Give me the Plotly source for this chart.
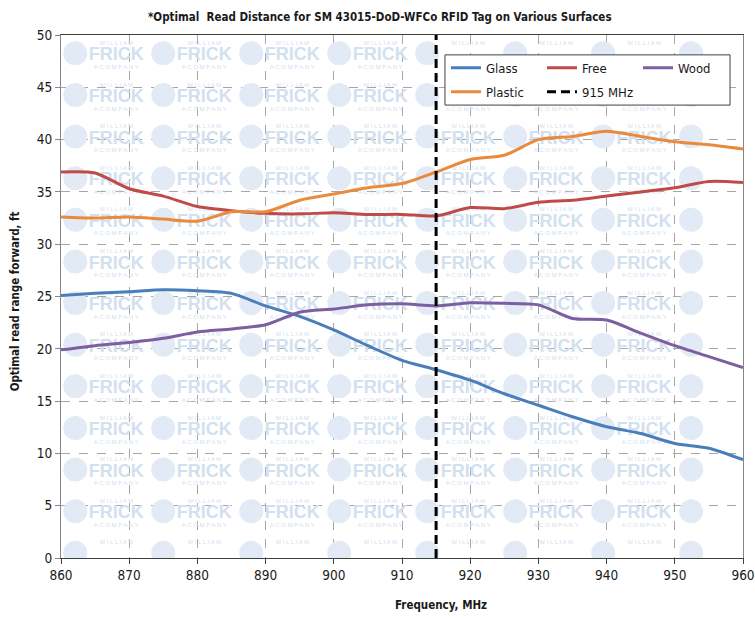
import numpy as np
import plotly.graph_objects as go

# ---- data ----
freq = [860, 865, 870, 875, 880, 885, 890, 895, 900, 905, 910,
        915, 920, 925, 930, 935, 940, 945, 950, 955, 960]
glass = [25.1, 25.3, 25.45, 25.65, 25.55, 25.3, 24.1, 23.1, 21.8, 20.3, 18.9,
         18.0, 17.0, 15.7, 14.6, 13.5, 12.55, 11.9, 10.95, 10.5, 9.4]
free = [36.9, 36.8, 35.3, 34.6, 33.6, 33.2, 32.95, 32.9, 33.0, 32.85, 32.85,
        32.7, 33.5, 33.4, 34.0, 34.2, 34.6, 35.0, 35.4, 36.0, 35.9]
wood = [19.9, 20.3, 20.6, 21.0, 21.6, 21.9, 22.3, 23.5, 23.8, 24.2, 24.3,
        24.1, 24.4, 24.35, 24.2, 22.9, 22.75, 21.5, 20.3, 19.25, 18.2]
plastic = [32.6, 32.5, 32.6, 32.4, 32.2, 33.1, 33.1, 34.2, 34.8, 35.4, 35.8,
           36.9, 38.1, 38.5, 40.0, 40.3, 40.8, 40.3, 39.8, 39.5, 39.1]
marker_freq = 915
y_range = [0, 50]
x_range = [860, 960]

FONT = "Liberation Sans Narrow, DejaVu Sans Condensed, Arial Narrow, sans-serif"
TXT = "#1a1a1a"

fig = go.Figure()

# legend frame (paper coords)
LX0, LX1, LY0, LY1 = 0.563, 0.981, 0.866, 0.962

# ---- watermark tiles (decorative, drawn first so it sits under lines) ----
wm_x0 = x_range[0] + 8.1
wm_dx = 12.9
wm_dy = 3.98
cols = np.arange(wm_x0, x_range[1] + 8, wm_dx)
rows = np.arange(y_range[1] - 2.0, y_range[0] - 2, -wm_dy)
gx, gy = np.meshgrid(cols, rows)
gx = gx.ravel(); gy = gy.ravel()
bx0 = x_range[0] + LX0 * (x_range[1] - x_range[0])
bx1 = x_range[0] + LX1 * (x_range[1] - x_range[0])
by0 = y_range[0] + LY0 * (y_range[1] - y_range[0])
by1 = y_range[0] + LY1 * (y_range[1] - y_range[0])


def visible(x, y, hw, hh):
    """keep only texts fully inside the plot and not hidden by the legend frame"""
    inside = (x - hw >= x_range[0]) & (x + hw <= x_range[1]) & \
             (y - hh >= y_range[0]) & (y + hh <= y_range[1])
    under = (x + hw > bx0) & (x - hw < bx1) & (y + hh > by0) & (y - hh < by1)
    return inside & ~under


wm_col = "#d3e0ef"
wm_font = "Liberation Sans, Arial, sans-serif"
fig.add_trace(go.Scatter(
    x=gx - 6.0, y=gy + 0.25, mode="markers",
    marker=dict(symbol="circle", size=24, color="#e1eaf5", line=dict(width=0)),
    hoverinfo="skip", showlegend=False, cliponaxis=True))
for dy, txt, size, hw, hh, bold in [(0.0, "FRICK", 18, 4.1, 0.7, True),
                                    (1.2, "W I L L I A M", 6, 3.3, 0.35, False),
                                    (-1.1, "A C O M P A N Y", 6, 3.9, 0.35, False)]:
    m = visible(gx, gy + dy, hw, hh)
    fig.add_trace(go.Scatter(
        x=gx[m], y=gy[m] + dy, mode="text", text=[txt] * int(m.sum()),
        textfont=dict(family=wm_font, size=size, color=wm_col,
                      weight="bold" if bold else "normal"),
        hoverinfo="skip", showlegend=False, cliponaxis=True))

# ---- series ----
series = [
    ("Glass", glass, "#4a7ebb", "legend"),
    ("Free", free, "#be4b48", "legend"),
    ("Wood", wood, "#7d5fa0", "legend"),
    ("Plastic", plastic, "#e98a3c", "legend2"),
]
for name, vals, col, lg in series:
    fig.add_trace(go.Scatter(
        x=freq, y=vals, name=name, mode="lines",
        line=dict(color=col, width=3, shape="spline", smoothing=0.7),
        legend=lg, hoverinfo="skip"))

fig.add_trace(go.Scatter(
    x=[marker_freq, marker_freq], y=y_range, name="915 MHz", mode="lines",
    line=dict(color="black", width=3, dash="9px,5px"),
    legend="legend2", hoverinfo="skip"))

fig.add_shape(type="rect", xref="paper", yref="paper",
              x0=LX0, x1=LX1, y0=LY0, y1=LY1,
              fillcolor="white", line=dict(color="#404040", width=1), layer="above")

leg_common = dict(orientation="h", bgcolor="rgba(0,0,0,0)", borderwidth=0,
                  font=dict(family=FONT, size=13, color=TXT),
                  entrywidth=51, entrywidthmode="pixels",
                  xanchor="left", yanchor="middle", itemwidth=30,
                  tracegroupgap=0)

fig.update_layout(
    width=755, height=619,
    margin=dict(l=61, r=12, t=35, b=61, autoexpand=False),
    paper_bgcolor="white", plot_bgcolor="white",
    font=dict(family=FONT, size=14, color=TXT),
    title=dict(text="<b>*Optimal  Read Distance for SM 43015-DoD-WFCo RFID Tag on Various Surfaces</b>",
               x=0.503, xref="container", xanchor="center",
               y=0.973, yref="container", yanchor="middle",
               font=dict(family=FONT, size=11.5, color=TXT)),
    legend=dict(x=0.5645, y=0.9375, **leg_common),
    legend2=dict(x=0.5645, y=0.8916, **leg_common),
    hovermode=False,
    annotations=[
        dict(text="<b>Optimal read range forward, ft</b>", textangle=-90,
             xref="paper", yref="paper", x=-0.068, y=0.49,
             xanchor="center", yanchor="middle", showarrow=False,
             font=dict(family=FONT, size=11.5, color=TXT)),
        dict(text="<b>Frequency, MHz</b>",
             xref="paper", yref="paper", x=0.557, y=-0.0899,
             xanchor="center", yanchor="middle", showarrow=False,
             font=dict(family=FONT, size=11.5, color=TXT)),
    ],
)

fig.update_xaxes(range=x_range, dtick=10, tick0=860,
                 showgrid=True, gridcolor="#a6a6a6", griddash="dash", gridwidth=1,
                 showline=True, linecolor="#404040", linewidth=1.3, mirror=True,
                 ticks="outside", ticklen=5, tickcolor="#404040",
                 tickfont=dict(family=FONT, size=13.5, color=TXT),
                 zeroline=False)
fig.update_yaxes(range=y_range, dtick=5, tick0=0,
                 showgrid=True, gridcolor="#a6a6a6", griddash="dash", gridwidth=1,
                 showline=True, linecolor="#868686", linewidth=1.3, mirror=True,
                 ticks="outside", ticklen=5, tickcolor="#868686",
                 tickfont=dict(family=FONT, size=13.5, color=TXT),
                 zeroline=False)

fig.write_html("out.html", config={"displayModeBar": False},
               post_script="document.body.style.margin='0px';document.body.style.overflow='hidden';")
